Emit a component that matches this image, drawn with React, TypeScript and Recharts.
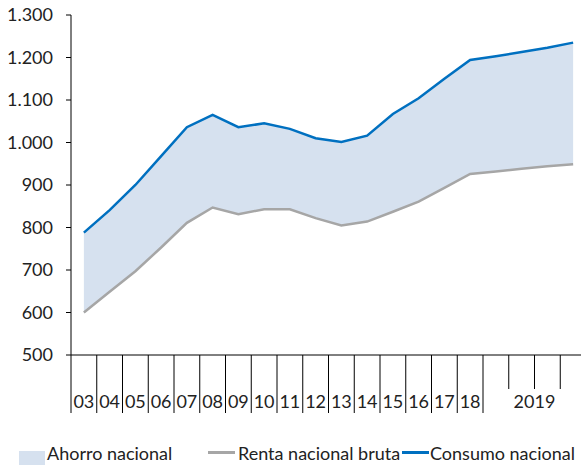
import { Area, ComposedChart, Line, XAxis, YAxis } from "recharts";

const categories = ["03", "04", "05", "06", "07", "08", "09", "10", "11", "12", "13", "14", "15", "16", "17", "18", "2019 T1", "2019 T2", "2019 T3", "2019 T4"];
const consumo = [788, 841, 900, 968, 1036, 1065, 1036, 1045, 1032, 1010, 1001, 1016, 1067, 1104, 1150, 1194, 1203, 1213, 1223, 1235];
const renta = [600, 649, 697, 753, 811, 847, 831, 843, 843, 822, 805, 814, 837, 861, 893, 926, 932, 938, 944, 949];
const yTicks = [500, 600, 700, 800, 900, 1000, 1100, 1200, 1300];

const data = categories.map((c, i) => ({ cat: c, consumo: consumo[i], renta: renta[i] }));

const FONT = "Lato, 'Open Sans', sans-serif";
const BLUE = "#0070c0";
const GREY = "#a6a6a6";
const FILL = "#d6e1ef";

const fmt = (v: number) =>
    v >= 1000 ? `${Math.floor(v / 1000)}.${String(v % 1000).padStart(3, "0")}` : String(v);

// year ticks: long line at left edge of each band, label centred
// 2019 quarters: short lines, one "2019" label under the whole year
const XTick = (props: any) => {
    const { x, y, payload, index } = props;
    const half = payload.offset || 12.875;
    const left = x - half;
    const isQuarter = index >= 16;
    const long = index <= 16;
    return (
        <g>
            <line x1={left} x2={left} y1={y} y2={y + (long ? 58 : 34)} stroke="#000" strokeWidth={1} />
            {!isQuarter && (
                <text x={x} y={y + 53} textAnchor="middle" fontSize={18} fontFamily={FONT} fill="#222">
                    {payload.value}
                </text>
            )}
            {index === 17 && (
                <text x={x + half} y={y + 53} textAnchor="middle" fontSize={18} fontFamily={FONT} fill="#222">
                    2019
                </text>
            )}
        </g>
    );
};

const legendText = { position: "absolute" as const, top: 442, lineHeight: "22px", fontSize: 18, fontFamily: FONT, color: "#222", whiteSpace: "nowrap" as const };

export default function App() {
    return (
        <div style={{ position: "fixed", left: 0, top: 0, width: 581, height: 465, overflow: "hidden", background: "#fff" }}>
            <ComposedChart width={600} height={465} data={data} margin={{ top: 15, right: 14, left: 0, bottom: 0 }}>
                <YAxis
                    width={71}
                    domain={[500, 1300]}
                    ticks={yTicks}
                    tickFormatter={fmt}
                    axisLine={{ stroke: "#000" }}
                    tickLine={{ stroke: "#000" }}
                    tickSize={5}
                    tickMargin={13}
                    tick={{ fontSize: 18, fontFamily: FONT, fill: "#222" }}
                    interval={0}
                />
                <XAxis
                    dataKey="cat"
                    scale="band"
                    height={110}
                    interval={0}
                    axisLine={{ stroke: "#000" }}
                    tickLine={false}
                    tickSize={0}
                    tickMargin={0}
                    tick={<XTick />}
                />
                <Area
                    dataKey={(d: any) => [d.renta, d.consumo]}
                    stroke="none"
                    fill={FILL}
                    fillOpacity={1}
                    isAnimationActive={false}
                    activeDot={false}
                />
                <Line dataKey="renta" stroke={GREY} strokeWidth={2.5} dot={false} isAnimationActive={false} />
                <Line dataKey="consumo" stroke={BLUE} strokeWidth={2.5} dot={false} isAnimationActive={false} />
            </ComposedChart>
            <div style={{ position: "absolute", left: 19, top: 451, width: 26, height: 16, background: FILL }} />
            <div style={{ ...legendText, left: 47 }}>Ahorro nacional</div>
            <div style={{ position: "absolute", left: 208, top: 451, width: 27, height: 2.5, background: GREY }} />
            <div style={{ ...legendText, left: 238 }}>Renta nacional bruta</div>
            <div style={{ position: "absolute", left: 402, top: 451, width: 27, height: 2.5, background: BLUE }} />
            <div style={{ ...legendText, left: 430 }}>Consumo nacional</div>
        </div>
    );
}
